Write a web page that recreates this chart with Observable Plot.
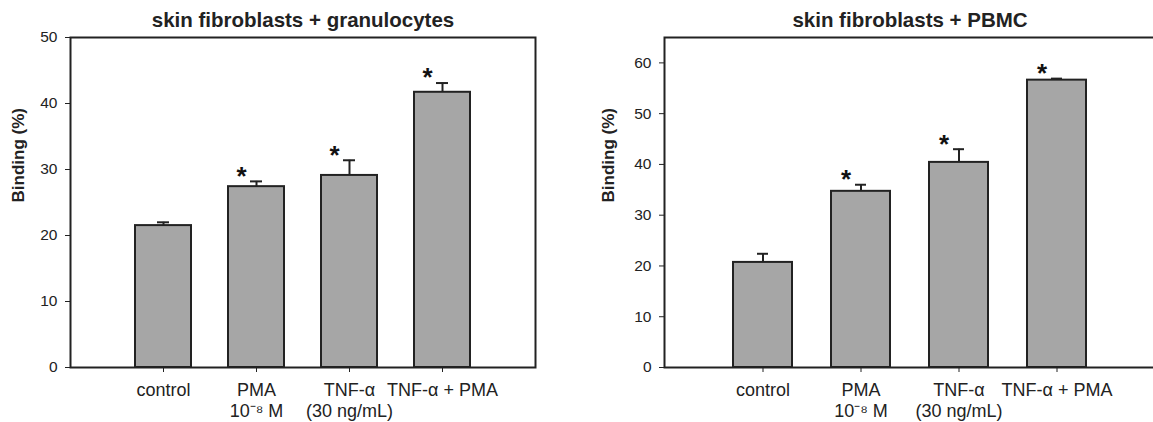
<!DOCTYPE html>
<html>
<head>
<meta charset="utf-8">
<script src="https://cdn.jsdelivr.net/npm/d3@7"></script>
<script src="https://cdn.jsdelivr.net/npm/@observablehq/plot@0.6"></script>
<style>
  html, body { margin: 0; padding: 0; background: #fff; overflow: hidden; }
  #wrap { position: relative; width: 1153px; height: 422px; overflow: hidden; background: #fff; }
  #wrap svg { position: absolute; top: 0; }
</style>
</head>
<body>
<div id="wrap"></div>
<script>
// ---- data ----
const categories = ["control", "PMA\n10⁻⁸ M", "TNF-α\n(30 ng/mL)", "TNF-α + PMA"];

const granTitle = "skin fibroblasts + granulocytes";
const granValues = [21.5, 27.4, 29.1, 41.7];
const granErrors = [0.5, 0.8, 2.3, 1.4];
const granSignificant = [false, true, true, true];
const granTicks = [0, 10, 20, 30, 40, 50];

const pbmcTitle = "skin fibroblasts + PBMC";
const pbmcValues = [20.7, 34.7, 40.4, 56.6];
const pbmcErrors = [1.7, 1.3, 2.6, 0.3];
const pbmcSignificant = [false, true, true, true];
const pbmcTicks = [0, 10, 20, 30, 40, 50, 60];

const yLabel = "Binding (%)";

// ---- chart ----
const ink = "#222";
const font = "'Liberation Sans', Arial, Helvetica, sans-serif";

function panel({title, values, errors, sig, ticks, yMax, width, marginLeft, marginRight, labelDx, capInset}) {
  const rows = categories.map((c, i) => ({cat: c, value: values[i], top: values[i] + errors[i], sig: sig[i]}));
  return Plot.plot({
    width, height: 422,
    marginLeft, marginRight, marginTop: 37, marginBottom: 55,
    style: {fontFamily: font, fontSize: "15.5px", color: ink, background: "transparent", overflow: "visible"},
    x: {domain: categories, paddingInner: 0.4026, paddingOuter: 0.7013, label: null},
    y: {domain: [0, yMax], label: null},
    marks: [
      Plot.barY(rows, {x: "cat", y: "value", fill: "#a6a6a6", stroke: ink, strokeWidth: 2}),
      Plot.ruleX(rows, {x: "cat", y1: "value", y2: "top", stroke: ink, strokeWidth: 2}),
      Plot.tickY(rows, {x: "cat", y: "top", inset: capInset, stroke: ink, strokeWidth: 2}),
      Plot.text(rows.filter(d => d.sig), {x: "cat", y: "top", text: () => "*", dx: -15, dy: -5,
        lineAnchor: "middle", fontSize: 26, fontWeight: "bold", fill: "#111"}),
      Plot.frame({stroke: ink, strokeWidth: 2}),
      Plot.axisY({ticks, tickSize: 5, tickPadding: 8, label: null, fontSize: 15.5, stroke: ink}),
      Plot.axisX({tickSize: 5, tickPadding: 9, label: null, fontSize: 18, lineHeight: 1.15, stroke: ink}),
      Plot.text([yLabel], {frameAnchor: "left", rotate: -90, dx: labelDx, lineAnchor: "middle",
        fontSize: 17, fontWeight: "bold", fill: ink}),
      Plot.text([title], {frameAnchor: "top", dy: -17, lineAnchor: "middle",
        fontSize: 20.5, fontWeight: "bold", fill: ink})
    ]
  });
}

const wrap = document.getElementById("wrap");

const left = panel({title: granTitle, values: granValues, errors: granErrors, sig: granSignificant,
  ticks: granTicks, yMax: 50, width: 576, marginLeft: 70, marginRight: 41, labelDx: -52, capInset: 22});
left.style.left = "0px";
wrap.appendChild(left);

const right = panel({title: pbmcTitle, values: pbmcValues, errors: pbmcErrors, sig: pbmcSignificant,
  ticks: pbmcTicks, yMax: 65, width: 579, marginLeft: 88, marginRight: 0, labelDx: -56, capInset: 24});
right.style.left = "576px";
wrap.appendChild(right);
</script>
</body>
</html>
